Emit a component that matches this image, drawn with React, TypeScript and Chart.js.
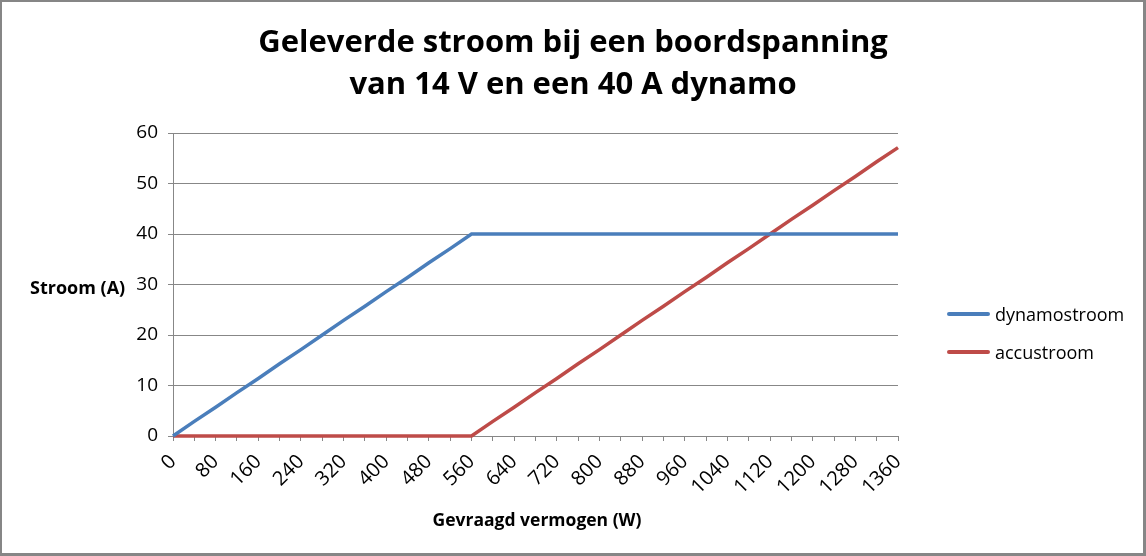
import { useEffect, useRef } from "react";
import { Chart, registerables } from "chart.js";

Chart.register(...registerables);

const vermogen = [
  0, 40, 80, 120, 160, 200, 240, 280, 320, 360, 400, 440, 480, 520, 560, 600, 640, 680,
  720, 760, 800, 840, 880, 920, 960, 1000, 1040, 1080, 1120, 1160, 1200, 1240, 1280, 1320, 1360
];

const dynamostroom = [
  0, 2.9, 5.7, 8.6, 11.4, 14.3, 17.1, 20, 22.9, 25.7, 28.6, 31.4, 34.3, 37.1, 40, 40, 40, 40,
  40, 40, 40, 40, 40, 40, 40, 40, 40, 40, 40, 40, 40, 40, 40, 40, 40
];

const accustroom = [
  0, 0, 0, 0, 0, 0, 0, 0, 0, 0, 0, 0, 0, 0, 0, 2.9, 5.7, 8.6,
  11.4, 14.3, 17.1, 20, 22.9, 25.7, 28.6, 31.4, 34.3, 37.1, 40, 42.9, 45.7, 48.6, 51.4, 54.3, 57.1
];

const seriesNames = ["dynamostroom", "accustroom"];
const seriesColors = ["#4a7ebb", "#be4b48"];

const titleLines = ["Geleverde stroom bij een boordspanning", "van 14 V en een 40 A dynamo"];
const yTitle = "Stroom (A)";
const xTitle = "Gevraagd vermogen (W)";

const FONT = "'Open Sans', 'DejaVu Sans', sans-serif";
const GRID = "#878787";

export default function App() {
  const canvasRef = useRef<HTMLCanvasElement | null>(null);

  useEffect(() => {
    const canvas = canvasRef.current;
    if (!canvas) return;

    const chart = new Chart(canvas, {
      type: "line",
      data: {
        labels: vermogen.map(String),
        datasets: [dynamostroom, accustroom].map((values, i) => ({
          label: seriesNames[i],
          data: values,
          borderColor: seriesColors[i],
          backgroundColor: seriesColors[i],
          borderWidth: 3.5,
          pointRadius: 0,
          tension: 0,
          clip: false as const
        }))
      },
      options: {
        responsive: false,
        animation: false,
        devicePixelRatio: 1,
        layout: {
          padding: { top: 133, right: 248, bottom: 20, left: 113 }
        },
        plugins: {
          legend: { display: false },
          title: { display: false },
          tooltip: { enabled: false }
        },
        scales: {
          x: {
            type: "category",
            offset: false,
            afterFit: (scale) => {
              scale.height = 100;
            },
            grid: {
              drawOnChartArea: false,
              drawTicks: true,
              tickLength: 5,
              color: GRID
            },
            border: { display: true, color: GRID, width: 1 },
            ticks: {
              autoSkip: false,
              maxRotation: 45,
              minRotation: 45,
              padding: 9,
              color: "#000",
              font: { family: FONT, size: 20 },
              callback: (_value, index) => (index % 2 === 0 ? vermogen[index] : "")
            }
          },
          y: {
            min: 0,
            max: 60,
            afterFit: (scale) => {
              scale.width = 60;
            },
            grid: {
              color: GRID,
              drawTicks: true,
              tickLength: 5
            },
            border: { display: true, color: GRID, width: 1 },
            ticks: {
              stepSize: 10,
              padding: 10,
              color: "#000",
              font: { family: FONT, size: 19 }
            }
          }
        }
      }
    });

    return () => chart.destroy();
  }, []);

  return (
    <div
      style={{
        position: "fixed",
        left: 0,
        top: 0,
        width: 1146,
        height: 556,
        background: "#fff",
        fontFamily: FONT,
        color: "#000"
      }}
    >
      <canvas ref={canvasRef} width={1146} height={556} style={{ position: "absolute", left: 0, top: 0 }} />
      <div
        style={{
          position: "absolute",
          left: 0,
          top: 19,
          width: 1146,
          textAlign: "center",
          fontWeight: 700,
          fontSize: 31,
          lineHeight: "42px"
        }}
      >
        {titleLines.map((line) => (
          <div key={line}>{line}</div>
        ))}
      </div>
      <div
        style={{
          position: "absolute",
          left: 30,
          top: 274,
          fontWeight: 700,
          fontSize: 18,
          lineHeight: "26px",
          whiteSpace: "nowrap"
        }}
      >
        {yTitle}
      </div>
      <div
        style={{
          position: "absolute",
          left: 337,
          width: 400,
          top: 506,
          textAlign: "center",
          fontWeight: 700,
          fontSize: 17.5,
          lineHeight: "26px"
        }}
      >
        {xTitle}
      </div>
      <div style={{ position: "absolute", left: 947, top: 295 }}>
        {seriesNames.map((name, i) => (
          <div key={name} style={{ display: "flex", alignItems: "center", height: 38 }}>
            <span
              style={{
                display: "inline-block",
                width: 43,
                height: 4,
                borderRadius: 2,
                background: seriesColors[i],
                marginRight: 5
              }}
            />
            <span style={{ fontSize: 18, lineHeight: "26px" }}>{name}</span>
          </div>
        ))}
      </div>
      <div
        style={{
          position: "absolute",
          inset: 0,
          borderStyle: "solid",
          borderColor: "#868686",
          borderWidth: "2px 3px 3px 2px",
          pointerEvents: "none"
        }}
      />
    </div>
  );
}
